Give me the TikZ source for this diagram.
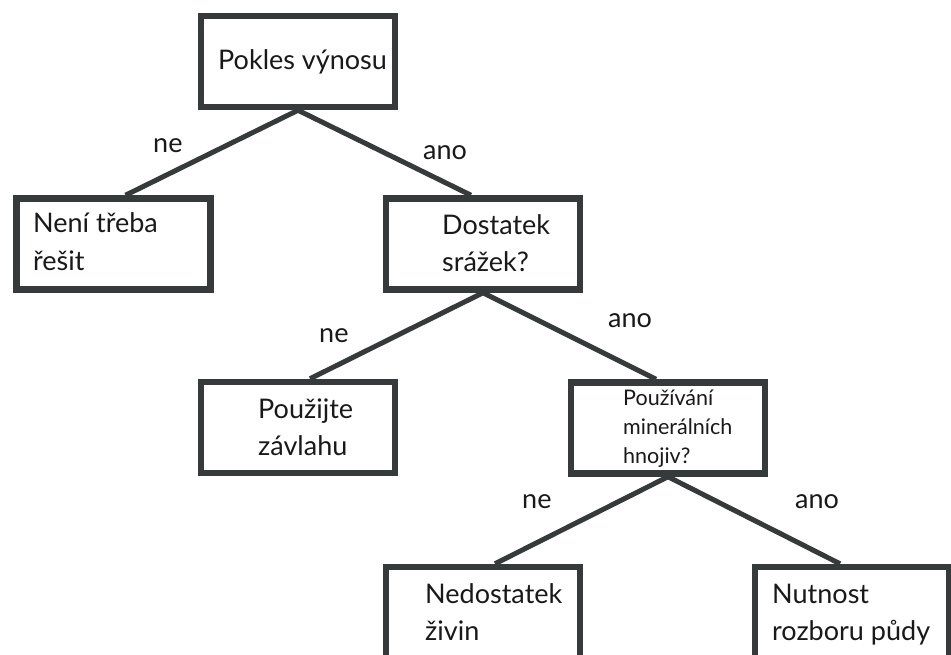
\documentclass[tikz,border=0pt]{standalone}
\usepackage{fontspec}
\setmainfont{Lato}
\definecolor{edgecol}{RGB}{54,58,58}
\definecolor{txtcol}{RGB}{25,25,25}
\begin{document}
\begin{tikzpicture}[x=1pt,y=-1pt,
  box/.style={draw=edgecol,line width=6.5pt,rectangle,minimum width=194pt,minimum height=91pt,inner sep=0pt},
  conn/.style={draw=edgecol,line width=5pt},
  txt/.style={anchor=base west,inner sep=0pt,text=txtcol,font=\fontsize{27}{32}\selectfont},
  small/.style={anchor=base west,inner sep=0pt,text=txtcol,font=\fontsize{21.5}{26}\selectfont},
  lab/.style={anchor=base west,inner sep=0pt,text=txtcol,font=\fontsize{27}{32}\selectfont}]
\useasboundingbox (0,0) rectangle (951,655);
\fill[white] (0,0) rectangle (951,655);
% boxes
\node[box] (root) at (298,61.5) {};
\node[box] (neni) at (113.5,244) {};
\node[box] (dost) at (483,244) {};
\node[box] (pouz) at (298,427.5) {};
\node[box] (min) at (668,428) {};
\node[box] (nedo) at (483,612.5) {};
\node[box] (nutn) at (852,612.5) {};
% connectors
\draw[conn] (root.south) -- ([xshift=12pt]neni.north);
\draw[conn] (root.south) -- ([xshift=-12pt]dost.north);
\draw[conn] (dost.south) -- ([xshift=12pt]pouz.north);
\draw[conn] (dost.south) -- ([xshift=-12pt]min.north);
\draw[conn] (min.south) -- ([xshift=12pt]nedo.north);
\draw[conn] (min.south) -- ([xshift=-12pt]nutn.north);
% texts
\node[txt] (t0) at (218,70) {Pokles výnosu};
\node[txt] (t1a) at (33,233) {Není třeba};
\node[txt] (t1b) at (33,271) {řešit};
\node[txt] (t2a) at (442,235) {Dostatek};
\node[txt] (t2b) at (442,272) {srážek?};
\node[txt] (t3a) at (258,418) {Použijte};
\node[txt] (t3b) at (258,455) {závlahu};
\node[small] (t4a) at (623,405) {Používání};
\node[small] (t4b) at (623,434) {minerálních};
\node[small] (t4c) at (623,463) {hnojiv?};
\node[txt] (t5a) at (425,603) {Nedostatek};
\node[txt] (t5b) at (425,640) {živin};
\node[txt] (t6a) at (772,603) {Nutnost};
\node[txt] (t6b) at (772,640) {rozboru půdy};
% edge labels
\node[lab] (l1) at (153,153) {ne};
\node[lab] (l2) at (423,160) {ano};
\node[lab] (l3) at (319,342) {ne};
\node[lab] (l4) at (608,327) {ano};
\node[lab] (l5) at (522,508) {ne};
\node[lab] (l6) at (795,508) {ano};
\end{tikzpicture}
\end{document}
